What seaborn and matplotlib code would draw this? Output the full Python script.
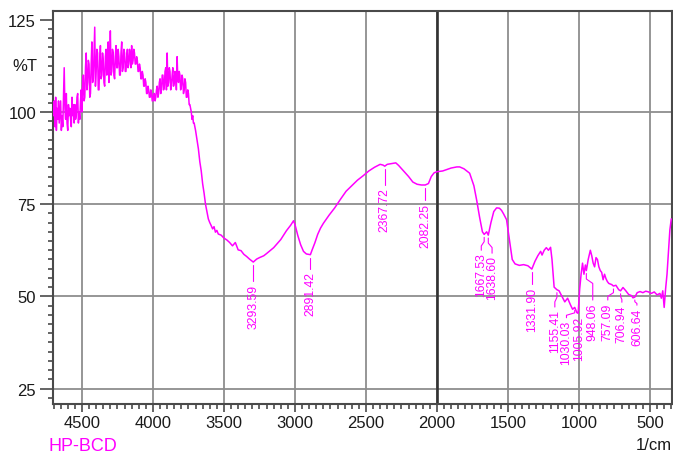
import numpy as np
import pandas as pd
import matplotlib
matplotlib.use("Agg")
import matplotlib.pyplot as plt
from matplotlib.ticker import MultipleLocator
from matplotlib import font_manager
import seaborn as sns

# FTIR spectrum of HP-BCD: wavenumber (1/cm) and transmittance (%T)
wavenumber = [
    4700, 4695, 4690, 4685, 4680, 4675, 4670, 4665, 4660, 4655,
    4650, 4645, 4640, 4635, 4630, 4625, 4620, 4615, 4610, 4605,
    4600, 4595, 4590, 4585, 4580, 4575, 4570, 4565, 4560, 4555,
    4550, 4545, 4540, 4535, 4530, 4525, 4520, 4515, 4510, 4505,
    4500, 4495, 4490, 4485, 4480, 4475, 4470, 4465, 4460, 4455,
    4450, 4445, 4440, 4435, 4430, 4425, 4420, 4415, 4410, 4405,
    4400, 4395, 4390, 4385, 4380, 4375, 4370, 4365, 4360, 4355,
    4350, 4345, 4340, 4335, 4330, 4325, 4320, 4315, 4310, 4305,
    4300, 4295, 4290, 4285, 4280, 4275, 4270, 4265, 4260, 4255,
    4250, 4245, 4240, 4235, 4230, 4225, 4220, 4215, 4210, 4205,
    4200, 4195, 4190, 4185, 4180, 4175, 4170, 4165, 4160, 4155,
    4150, 4145, 4140, 4135, 4130, 4125, 4120, 4115, 4110, 4105,
    4100, 4095, 4090, 4085, 4080, 4075, 4070, 4065, 4060, 4055,
    4050, 4045, 4040, 4035, 4030, 4025, 4020, 4015, 4010, 4005,
    4000, 3995, 3990, 3985, 3980, 3975, 3970, 3965, 3960, 3955,
    3950, 3945, 3940, 3935, 3930, 3925, 3920, 3915, 3910, 3905,
    3900, 3895, 3890, 3885, 3880, 3875, 3870, 3865, 3860, 3855,
    3850, 3845, 3840, 3835, 3830, 3825, 3820, 3815, 3810, 3805,
    3800, 3795, 3790, 3785, 3780, 3775, 3770, 3765, 3760, 3755,
    3750, 3745, 3740, 3735, 3730, 3725, 3720, 3715, 3710, 3705,
    3700, 3690, 3680, 3670, 3660, 3650, 3640, 3630, 3620, 3610,
    3600, 3590, 3580, 3570, 3560, 3550, 3540, 3520, 3500, 3480,
    3460, 3440, 3420, 3400, 3380, 3360, 3340, 3320, 3293.59, 3270,
    3250, 3220, 3200, 3150, 3100, 3060, 3030, 3010, 3000, 2980,
    2960, 2940, 2920, 2891.42, 2880, 2860, 2840, 2820, 2800, 2760,
    2720, 2680, 2640, 2600, 2560, 2520, 2480, 2440, 2400, 2380,
    2367.72, 2350, 2320, 2290, 2270, 2240, 2200, 2170, 2140, 2110,
    2082.25, 2060, 2040, 2020, 2000, 1960, 1900, 1860, 1840, 1810,
    1790, 1770, 1740, 1720, 1700, 1680, 1667.53, 1650, 1638.60, 1620,
    1600, 1580, 1560, 1545, 1530, 1510, 1490, 1470, 1450, 1420,
    1390, 1360, 1331.90, 1310, 1290, 1270, 1260, 1245, 1230, 1215,
    1200, 1190, 1175, 1155.41, 1140, 1120, 1100, 1080, 1060, 1045,
    1030.03, 1015, 1005.92, 995, 985, 975, 965, 955, 948.06, 935,
    920, 910, 900, 890, 880, 870, 860, 850, 840, 830,
    820, 810, 800, 790, 770, 757.09, 740, 720, 706.94, 690,
    670, 650, 630, 620, 606.64, 590, 570, 550, 530, 510,
    490, 470, 450, 430, 420, 410, 400, 390, 380, 370,
    360, 350,
]
transmittance = [
    99, 103, 96, 104, 95, 101, 98, 103, 97, 100,
    103, 95, 99, 96, 104, 112, 101, 98, 105, 97,
    95, 102, 99, 101, 98, 96, 104, 99, 102, 97,
    102, 98, 99, 104, 105, 97, 100, 98, 103, 106,
    100, 108, 110, 103, 104, 112, 116, 106, 108, 114,
    113, 104, 105, 113, 119, 108, 109, 116, 123, 107,
    111, 117, 116, 106, 106, 114, 118, 109, 110, 116,
    114, 108, 107, 115, 117, 110, 112, 119, 108, 113,
    122, 110, 111, 117, 116, 110, 109, 115, 118, 112,
    112, 117, 115, 110, 110, 116, 119, 111, 112, 117,
    116, 111, 111, 115, 117, 112, 113, 117, 115, 112,
    118, 113, 114, 117, 116, 113, 113, 115, 114, 111,
    111, 113, 112, 109, 109, 111, 110, 107, 107, 109,
    108, 105, 105, 107, 106, 104, 104, 106, 105, 103,
    103, 105, 105, 103, 104, 106, 107, 104, 105, 108,
    109, 105, 106, 110, 110, 106, 107, 111, 112, 106,
    116, 107, 108, 112, 111, 106, 107, 110, 112, 107,
    108, 111, 110, 106, 115, 109, 108, 111, 110, 106,
    107, 110, 109, 105, 106, 109, 108, 104, 104, 106,
    105, 102, 102, 101, 100, 98, 99, 97, 97, 96,
    95, 92.5, 90, 86.5, 84, 80.5, 78, 75, 73, 71,
    70, 69.2, 68.3, 68.9, 67.4, 67.9, 66.9, 66.6, 65.8, 65.3,
    64.6, 63.7, 64.6, 62.6, 62.4, 61.4, 60.8, 60.1, 59.3, 60.1,
    60.5, 61.0, 61.6, 63.2, 65.4, 67.8, 69.3, 70.5, 69.5, 66.5,
    64.0, 62.2, 61.5, 61.3, 62.5, 64.5, 66.8, 68.5, 69.8, 72.0,
    74.0, 76.3, 78.5, 80.0, 81.5, 82.7, 84.0, 85.0, 85.8, 85.6,
    85.3, 85.8, 86.0, 86.2, 85.5, 84.2, 82.5, 81.0, 80.4, 80.2,
    80.2, 80.6, 82.5, 83.5, 83.8, 84.0, 84.8, 85.1, 85.1, 84.6,
    84.0, 83.4, 80.0, 76.0, 71.5, 67.5, 66.8, 67.5, 66.6, 70.0,
    73.0, 74.0, 73.9, 73.3, 72.3, 70.8, 65.5, 60.0, 58.8, 58.4,
    58.6, 58.3, 57.4, 59.5, 61.0, 62.2, 61.2, 62.5, 63.2, 62.5,
    63.3, 60.0, 52.5, 51.8, 51.5, 50.0, 48.5, 49.5, 47.7, 46.5,
    47.0, 45.6, 45.4, 52.0, 56.0, 59.0, 56.0, 58.5, 57.0, 60.0,
    62.5, 61.0, 59.0, 58.0, 60.5, 60.0, 58.0, 57.0, 56.5, 54.5,
    56.0, 54.8, 54.0, 53.5, 53.2, 52.8, 53.0, 51.8, 51.5, 52.4,
    51.5, 50.5, 50.2, 49.6, 49.8, 51.0, 51.3, 51.0, 51.4, 51.2,
    50.8, 51.2, 50.4, 50.8, 49.5, 51.5, 47.0, 52.0, 56.0, 62.0,
    68.0, 71.0,
]

# Labelled absorption bands
peak_wn = [3293.59, 2891.42, 2367.72, 2082.25, 1667.53, 1638.60, 1331.90,
           1155.41, 1030.03, 1005.92, 948.06, 757.09, 706.94, 606.64]
peak_labels = ["3293.59", "2891.42", "2367.72", "2082.25", "1667.53",
               "1638.60", "1331.90", "1155.41", "1030.03", "1005.92",
               "948.06", "757.09", "706.94", "606.64"]

# Label layout: horizontal position of each label and the top of its text
label_x = [3293.59, 2891.42, 2367.72, 2082.25, 1688, 1612, 1331.90,
           1170, 1088, 1000, 903, 797, 698, 592]
label_top = [53.5, 56.8, 79.5, 75.4, 61.9, 61.1, 52.7,
             46.5, 43.6, 44.8, 48.4, 48.4, 47.8, 47.0]

MAGENTA = "#ff00ff"
AXIS_GREY = "#4a4a4a"
GRID_GREY = "#8e8e8e"

sns.set_theme(style="white")
plt.rcParams["font.family"] = ["Liberation Sans", "DejaVu Sans"]

installed = {f.name for f in font_manager.fontManager.ttflist}
if "Liberation Sans Narrow" in installed:
    tick_font = font_manager.FontProperties(family="Liberation Sans Narrow", size=14)
else:
    tick_font = font_manager.FontProperties(family="Liberation Sans", size=12)

fig = plt.figure(figsize=(6.73, 4.56), dpi=100)
ax = fig.add_axes([0.0783, 0.1118, 0.9202, 0.8612])

df = pd.DataFrame({"wavenumber": wavenumber, "transmittance": transmittance})
sns.lineplot(data=df, x="wavenumber", y="transmittance", ax=ax,
             color=MAGENTA, linewidth=1.1, estimator=None, sort=False,
             zorder=3)

ax.set_xlim(4706, 345)
ax.set_ylim(20.8, 127.3)
ax.set_xlabel("")
ax.set_ylabel("")

ax.set_xticks([4500, 4000, 3500, 3000, 2500, 2000, 1500, 1000, 500])
ax.xaxis.set_minor_locator(MultipleLocator(50))
ax.set_yticks([25, 50, 75, 100, 125])
ax.yaxis.set_minor_locator(MultipleLocator(2.5))

ax.tick_params(axis="both", which="both", direction="out", colors=AXIS_GREY,
               labelcolor="#1a1a1a")
ax.tick_params(axis="y", which="major", length=9.5, width=1.2, pad=2.5)
ax.tick_params(axis="y", which="minor", length=3.6, width=1.2)
ax.tick_params(axis="x", which="major", length=6, width=1.2, pad=2)
ax.tick_params(axis="x", which="minor", length=3.6, width=1.2)
ax.yaxis.set_ticks_position("left")
ax.xaxis.set_ticks_position("bottom")
for lab in ax.get_xticklabels() + ax.get_yticklabels():
    lab.set_fontproperties(tick_font)

ax.set_axisbelow(True)
ax.grid(True, which="major", color=GRID_GREY, linewidth=1.3)
for tick in ax.yaxis.get_major_ticks():
    if abs(tick.get_loc() - 125) < 1e-6:
        tick.gridline.set_visible(False)
ax.axvline(2000, color="#333333", linewidth=1.9, zorder=1.5)

for side in ["left", "right", "top", "bottom"]:
    ax.spines[side].set_color(AXIS_GREY)
    ax.spines[side].set_linewidth(1.5)

# Peak annotations with leader lines
wn_asc = np.array(wavenumber)[::-1]
t_asc = np.array(transmittance)[::-1]
for wn, text, lx, top in zip(peak_wn, peak_labels, label_x, label_top):
    yc = float(np.interp(wn, wn_asc, t_asc))
    start = yc - 0.8
    end = top + 0.6
    if end < start:
        if abs(lx - wn) > 1:
            mid = start - min(1.5, (start - end) / 3)
            knee = mid - min(1.2, (mid - end) / 2)
            ax.plot([wn, wn, lx, lx], [start, mid, knee, end],
                    color=MAGENTA, linewidth=0.8, zorder=3)
        else:
            ax.plot([wn, wn], [start, end], color=MAGENTA,
                    linewidth=0.8, zorder=3)
    ax.text(lx, top, text, rotation=90, ha="center", va="top",
            fontsize=8.8, color=MAGENTA, zorder=4)

# Axis captions
cap_font = tick_font.copy()
ax.text(-0.0254, 112.5, "%T", transform=ax.get_yaxis_transform(),
        ha="right", va="center", fontproperties=cap_font, color="#1a1a1a")
hp_font = tick_font.copy()
hp_font.set_family("Liberation Sans")
hp_font.set_size(13)
fig.text(48 / 673, 1 - 447 / 456, "HP-BCD", color=MAGENTA,
         fontproperties=hp_font, ha="left", va="center")
fig.text(0.998, 1 - 446 / 456, "1/cm", color="#1a1a1a",
         fontproperties=cap_font, ha="right", va="center")

fig.savefig("out.png", dpi=100)
